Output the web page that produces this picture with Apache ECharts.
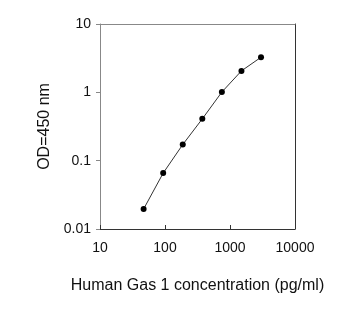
<!DOCTYPE html>
<html><head><meta charset="utf-8">
<script src="https://cdn.jsdelivr.net/npm/echarts@6/dist/echarts.min.js"></script>
<style>html,body{margin:0;padding:0;background:#fff}#c{width:364px;height:310px}</style>
</head><body><div id="c"></div>
<script>
const concentrations = [46.875, 93.75, 187.5, 375, 750, 1500, 3000];
const odValues = [0.0196, 0.0658, 0.172, 0.409, 1.01, 2.06, 3.26];
const xTicks = [10, 100, 1000, 10000];
const yTicks = [0.01, 0.1, 1, 10];
const xName = 'Human Gas 1 concentration (pg/ml)';
const yName = 'OD=450 nm';

const font = 'Liberation Sans, Arial, sans-serif';
const chart = echarts.init(document.getElementById('c'), null, {renderer: 'canvas'});
chart.setOption({
  animation: false,
  grid: {left: 100, top: 24, right: 69, bottom: 81},
  xAxis: [{
    type: 'log', logBase: 10, min: xTicks[0], max: xTicks[xTicks.length - 1],
    name: xName, nameLocation: 'middle', nameGap: 49,
    nameTextStyle: {fontFamily: font, fontSize: 16, color: '#111'},
    axisLine: {lineStyle: {color: '#333', width: 1}},
    axisTick: {inside: true, length: 4, lineStyle: {color: '#333'}},
    minorTick: {show: false},
    splitLine: {show: false},
    axisLabel: {fontFamily: font, fontSize: 14, color: '#111', margin: 12,
      formatter: v => String(Math.round(v))}
  }, {
    type: 'log', logBase: 10, min: xTicks[0], max: xTicks[xTicks.length - 1],
    position: 'top',
    axisLine: {lineStyle: {color: '#888', width: 1}},
    axisTick: {show: false}, axisLabel: {show: false}, splitLine: {show: false}
  }],
  yAxis: [{
    type: 'log', logBase: 10, min: yTicks[0], max: yTicks[yTicks.length - 1],
    name: yName, nameLocation: 'middle', nameGap: 38, nameRotate: 90,
    nameTextStyle: {fontFamily: font, fontSize: 16, color: '#111'},
    axisLine: {lineStyle: {color: '#888', width: 1}},
    axisTick: {inside: false, length: 4, lineStyle: {color: '#888'}},
    splitLine: {show: false},
    axisLabel: {fontFamily: font, fontSize: 14, color: '#111', margin: 9,
      formatter: v => { const t = yTicks.find(k => Math.abs(Math.log10(k) - Math.log10(v)) < 1e-6); return t !== undefined ? String(t) : ''; }}
  }, {
    type: 'log', logBase: 10, min: yTicks[0], max: yTicks[yTicks.length - 1],
    position: 'right',
    axisLine: {lineStyle: {color: '#333', width: 1}},
    axisTick: {show: false}, axisLabel: {show: false}, splitLine: {show: false}
  }],
  series: [{
    type: 'line',
    data: concentrations.map((c, i) => [c, odValues[i]]),
    symbol: 'circle', symbolSize: 6,
    itemStyle: {color: '#000'},
    lineStyle: {color: '#333', width: 1}
  }]
});
</script></body></html>
